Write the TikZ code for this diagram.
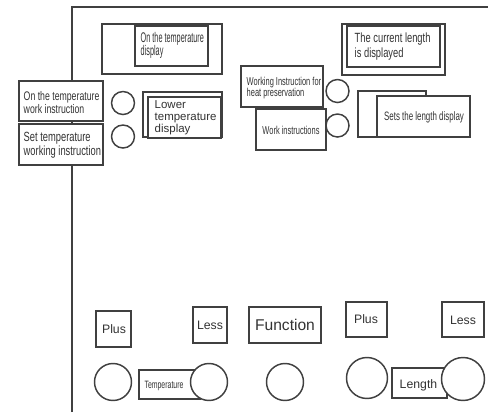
\documentclass[tikz,border=0pt]{standalone}
\usepackage{fontspec}
\setmainfont{Liberation Sans}
\newfontfamily\narrowfont[FakeStretch=0.65]{Liberation Sans}
\newfontfamily\semifont[FakeStretch=0.7]{Liberation Sans}
\newfontfamily\slimfont[FakeStretch=0.52]{Liberation Sans}

\tikzset{every picture/.style={line width=1.1pt}}
\tikzset{
  panelbox/.style={draw=black!75, fill=white},
  knob/.style={draw=black!75, fill=white},
  narrowlabel/.style={inner sep=0pt, align=left, text=black!80},
  keylabel/.style={inner sep=0pt, text=black!80, font=\fontsize{9.2pt}{10pt}\selectfont}
}

\begin{document}
\begin{tikzpicture}[x=0.75pt,y=0.75pt,yscale=-1,xscale=1]
  \useasboundingbox (0,0) rectangle (489,412);

  % panel outline
  \draw [black!75, line width=1.3pt]   (72,412) -- (72,7) -- (488,7) ;

  % temperature display
  \draw [panelbox]   (102,24) rectangle (222,74) ;
  \draw [panelbox]   (135,26) rectangle (208,66) ;
  % length display
  \draw [panelbox]   (342,24) rectangle (445,75) ;
  \draw [panelbox, line width=1.4pt]   (347,26) rectangle (440,67) ;

  % left instruction boxes
  \draw [panelbox]   (19,81) rectangle (103,121) ;
  \draw [panelbox]   (19,124) rectangle (103,165) ;
  \draw [knob]   (123,103) circle (11.5) ;
  \draw [knob]   (123,136.5) circle (11.5) ;
  \draw [panelbox]   (143,92) rectangle (222,137) ;
  \draw [panelbox]   (148,97) rectangle (221,138) ;

  % right instruction boxes
  \draw [panelbox]   (241,66) rectangle (323,107) ;
  \draw [panelbox]   (256,109) rectangle (326,150) ;
  \draw [knob]   (337.5,91) circle (11.5) ;
  \draw [knob]   (337.5,125.5) circle (11.5) ;
  \draw [panelbox]   (358,91) rectangle (426,137) ;
  \draw [panelbox]   (377,96) rectangle (470,137) ;

  % keys
  \draw [panelbox]   (96,311) rectangle (131,347) ;
  \draw [panelbox]   (193,307) rectangle (227,343) ;
  \draw [panelbox]   (249,307) rectangle (321,343) ;
  \draw [panelbox]   (346,302) rectangle (387,337) ;
  \draw [panelbox]   (442,302) rectangle (484,337) ;

  % knobs
  \draw [knob]   (113,382) circle (18.5) ;
  \draw [panelbox]   (139,370) rectangle (200,399) ;
  \draw [knob]   (209,382) circle (18.5) ;
  \draw [knob]   (285,382) circle (18.5) ;
  \draw [knob]   (367,378) circle (20.5) ;
  \draw [panelbox]   (392,368) rectangle (447,398) ;
  \draw [knob]   (463,379) circle (21.5) ;


  \draw (140,45.5) node (tempdisp) [narrowlabel, anchor=west, font=\slimfont\fontsize{10.5pt}{10pt}\selectfont] {On the temperature\\display};
  \draw (354,46.4) node (curlen) [narrowlabel, anchor=west, font=\semifont\fontsize{10pt}{11pt}\selectfont] {The current length\\is displayed};
  \draw (23,102.8) node (tempwork) [narrowlabel, anchor=west, font=\semifont\fontsize{9.35pt}{9.5pt}\selectfont] {On the temperature\\work instruction};
  \draw (23,145.2) node (settemp) [narrowlabel, anchor=west, font=\semifont\fontsize{10pt}{10.7pt}\selectfont] {Set temperature\\working instruction};
  \draw (154,117.7) node (lowtemp) [narrowlabel, anchor=west, font=\fontsize{8.6pt}{8.8pt}\selectfont] {Lower\\temperature\\display};
  \draw (246,88.2) node (heatwork) [narrowlabel, anchor=west, font=\narrowfont\fontsize{8.6pt}{8.5pt}\selectfont] {Working Instruction for\\heat preservation};
  \draw (291,130) node (workinst) [narrowlabel, font=\narrowfont\fontsize{8.6pt}{9pt}\selectfont] {Work instructions};
  \draw (424,117) node (setlen) [narrowlabel, font=\narrowfont\fontsize{9.15pt}{10pt}\selectfont] {Sets the length display};
  \draw (114,329) node (tplus) [keylabel] {Plus};
  \draw (210,325) node (tless) [keylabel] {Less};
  \draw (285,325) node (func) [keylabel, font=\fontsize{11.7pt}{13pt}\selectfont] {Function};
  \draw (366,319) node (lplus) [keylabel] {Plus};
  \draw (463,320) node (lless) [keylabel] {Less};
  \draw (164,386) node (templbl) [narrowlabel, font=\narrowfont\fontsize{8pt}{9pt}\selectfont] {Temperature};
  \draw (418.5,385) node (lenlbl) [keylabel] {Length};

\end{tikzpicture}
\end{document}
